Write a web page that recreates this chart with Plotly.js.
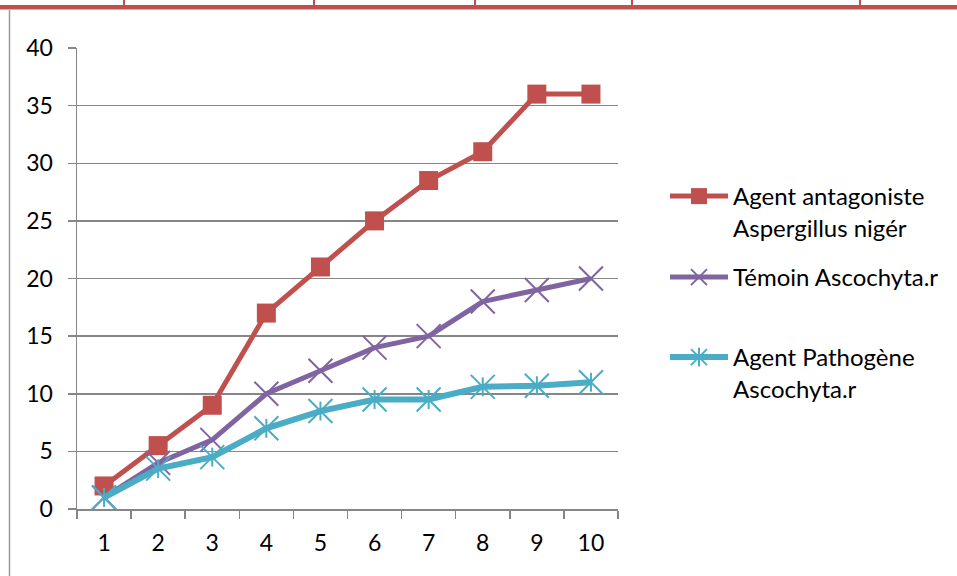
<!DOCTYPE html>
<html>
<head>
<meta charset="utf-8">
<script src="https://cdn.plot.ly/plotly-3.0.1.min.js"></script>
<style>
  html, body { margin: 0; padding: 0; background: #ffffff; }
  #chart { width: 957px; height: 576px; }
</style>
</head>
<body>
<div id="chart"></div>
<script>
// Days of observation
const categories = ['1', '2', '3', '4', '5', '6', '7', '8', '9', '10'];

// Series values
const antagonisteValues = [2, 5.5, 9, 17, 21, 25, 28.5, 31, 36, 36];
const temoinValues      = [1, 4, 6, 10, 12, 14, 15, 18, 19, 20];
const pathogeneValues   = [1, 3.5, 4.5, 7, 8.5, 9.5, 9.5, 10.6, 10.7, 11];

// Series names
const seriesNames = [
  'Agent antagoniste<br>Aspergillus nigér',
  'Témoin Ascochyta.r',
  'Agent Pathogène<br>Ascochyta.r'
];

// Y axis ticks
const yTickValues = [0, 5, 10, 15, 20, 25, 30, 35, 40];

const W = 957, H = 576;
const M = { l: 77, r: 339, t: 48, b: 67 };
const plotW = W - M.l - M.r;
const plotH = H - M.t - M.b;
const px2x = px => (px - M.l) / plotW;
const py2y = py => (H - M.b - py) / plotH;

const RED = '#C0504D', PURPLE = '#8064A2', CYAN = '#4BACC6', GRID = '#868686';
const FONT = 'Lato, "Open Sans", sans-serif';
const TICK_SIZE = 23, LEGEND_SIZE = 24;

const traces = [
  {
    x: categories, y: antagonisteValues, name: seriesNames[0],
    type: 'scatter', mode: 'lines+markers', legend: 'legend',
    line: { color: RED, width: 5 },
    marker: { symbol: 'square', size: 19, color: RED }
  },
  {
    x: categories, y: temoinValues, name: seriesNames[1],
    type: 'scatter', mode: 'lines+markers', legend: 'legend2',
    line: { color: PURPLE, width: 5 },
    marker: { symbol: 'x-thin-open', size: 24, color: PURPLE, line: { color: PURPLE, width: 2 } }
  },
  {
    x: categories, y: pathogeneValues, name: seriesNames[2],
    type: 'scatter', mode: 'lines+markers', legend: 'legend3',
    line: { color: CYAN, width: 6 },
    marker: { symbol: 'x-thin-open', size: 24, color: CYAN, line: { color: CYAN, width: 2 } }
  },
  {
    // vertical stroke completing the star marker of the third series
    x: categories, y: pathogeneValues, name: ' ',
    type: 'scatter', mode: 'markers', legend: 'legend4',
    marker: { symbol: 'line-ns-open', size: 13.5, color: CYAN, line: { color: CYAN, width: 2 } },
    hoverinfo: 'skip'
  }
];

const legendBase = {
  xanchor: 'left', yanchor: 'top', valign: 'top',
  bgcolor: 'rgba(0,0,0,0)', borderwidth: 0,
  font: { family: FONT, size: LEGEND_SIZE, color: '#000000' },
  itemwidth: 58, tracegroupgap: 0
};

const shapes = [
  // top border band
  { type: 'rect', xref: 'paper', yref: 'paper',
    x0: px2x(0), x1: px2x(W), y0: py2y(5), y1: py2y(9.5),
    fillcolor: RED, line: { width: 0 } },
  // left frame line
  { type: 'line', xref: 'paper', yref: 'paper',
    x0: px2x(9.5), x1: px2x(9.5), y0: py2y(10), y1: py2y(H),
    line: { color: '#9a9a9a', width: 1.5 } }
];
[124, 314, 475, 632, 860].forEach(px => {
  shapes.push({ type: 'line', xref: 'paper', yref: 'paper',
    x0: px2x(px), x1: px2x(px), y0: py2y(0), y1: py2y(6),
    line: { color: RED, width: 2 } });
});

const layout = {
  width: W, height: H,
  margin: M,
  paper_bgcolor: '#ffffff', plot_bgcolor: '#ffffff',
  font: { family: FONT, size: TICK_SIZE, color: '#000000' },
  showlegend: true,
  xaxis: {
    type: 'category', range: [-0.5, 9.5], tickson: 'boundaries',
    ticks: 'outside', ticklen: 8, tickwidth: 1.5, tickcolor: GRID,
    ticklabelstandoff: 13,
    showline: true, linecolor: GRID, linewidth: 1.5,
    showgrid: false, zeroline: false,
    tickfont: { family: FONT, size: TICK_SIZE, color: '#000000' },
    fixedrange: true
  },
  yaxis: {
    range: [0, 40], tickvals: yTickValues,
    ticks: 'outside', ticklen: 8, tickwidth: 1.5, tickcolor: GRID,
    ticklabelstandoff: 10,
    showline: true, linecolor: GRID, linewidth: 1.5,
    showgrid: true, gridcolor: GRID, gridwidth: 1.5, zeroline: false,
    tickfont: { family: FONT, size: TICK_SIZE, color: '#000000' },
    fixedrange: true
  },
  legend:  Object.assign({}, legendBase, { x: px2x(665), y: py2y(174) }),
  legend2: Object.assign({}, legendBase, { x: px2x(665), y: py2y(255) }),
  legend3: Object.assign({}, legendBase, { x: px2x(665), y: py2y(335) }),
  legend4: Object.assign({}, legendBase, { x: px2x(665), y: py2y(335) }),
  shapes: shapes
};

Plotly.newPlot('chart', traces, layout, { displayModeBar: false, staticPlot: true });
</script>
</body>
</html>
